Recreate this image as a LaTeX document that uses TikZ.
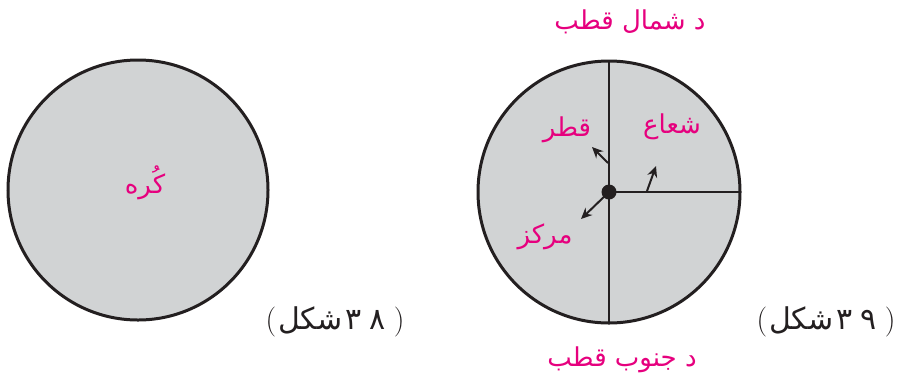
\documentclass[tikz,border=0pt]{standalone}
\usepackage{fontspec}
\TeXXeTstate=1
\newfontfamily\arabicfont[Script=Arabic]{DejaVu Sans}
\usetikzlibrary{arrows.meta}
\definecolor{pinkt}{HTML}{E6007E}
\definecolor{fillg}{HTML}{D1D3D4}
\definecolor{ink}{HTML}{231F20}
\newcommand{\capfig}[1]{\hbox{\rmfamily (}\kern2pt\hbox{\beginR شکل\endR}\kern3pt\hbox{۳}\kern8pt\hbox{#1}\kern8pt\hbox{\rmfamily )}}
\tikzset{
  ball/.style={draw=ink, line width=3pt, fill=fillg},
  axis/.style={draw=ink, line width=2.4pt},
  lbl/.style={text=pinkt, font=\arabicfont\fontsize{26}{30}\selectfont, inner sep=0pt},
  capt/.style={text=ink, font=\arabicfont\fontsize{30}{34}\selectfont, inner sep=0pt},
  ptr/.style={draw=ink, line width=2pt, -{Stealth[length=11pt,width=10pt]}}
}
\begin{document}
\begin{tikzpicture}[x=1pt,y=-1pt]
\useasboundingbox (0,0) rectangle (899,384);
% left sphere
\draw[ball] (138,190) circle[radius=130];
\node[lbl] (kura) at (145,183) {\beginR کُره\endR};
\node[capt] (cap38) at (335,322) {\capfig{۸}};
% right sphere
\draw[ball] (609,192) circle[radius=131];
\coordinate (top) at (609,61);
\coordinate (bot) at (609,323);
\coordinate (rgt) at (740,192);
\node[circle, fill=ink, minimum size=15pt, inner sep=0pt] (c) at (609,192) {};
\draw[axis] (top) -- (bot);
\draw[axis] (c.center) -- (rgt);
\coordinate (dstart) at (608,163);
\coordinate (dtip) at (592,147);
\coordinate (rstart) at (647,191);
\coordinate (rtip) at (656,166);
\coordinate (ctip) at (581,219);
\draw[ptr] (dstart) -- (dtip);
\draw[ptr] (rstart) -- (rtip);
\draw[ptr] (c.center) -- (ctip);
\node[lbl] (north) at (630,22) {\beginR د شمال قطب\endR};
\node[lbl] (south) at (622,360) {\beginR د جنوب قطب\endR};
\node[lbl] (qutr) at (567,130) {\beginR قطر\endR};
\node[lbl] (shuaa) at (672,127) {\beginR شعاع\endR};
\node[lbl] (markaz) at (545,237) {\beginR مرکز\endR};
\node[capt] (cap39) at (826,322) {\capfig{۹}};
\end{tikzpicture}
\end{document}
